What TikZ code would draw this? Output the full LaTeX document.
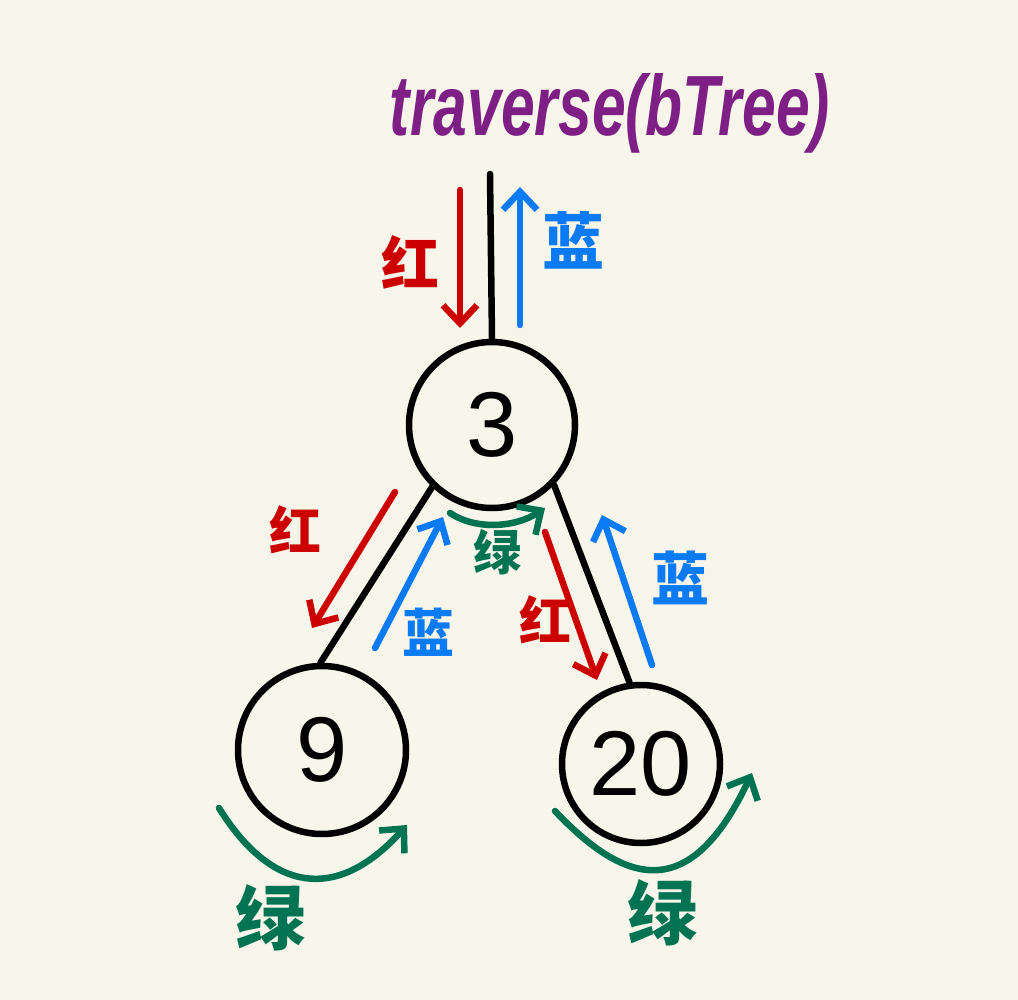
\documentclass[tikz,border=0pt]{standalone}
\usepackage{fontspec}
\setmainfont{Liberation Sans}
\newfontfamily\cjk{Noto Sans CJK SC}
\usetikzlibrary{arrows.meta}
\definecolor{bgc}{HTML}{F8F6EA}
\definecolor{purp}{HTML}{7E1F86}
\definecolor{redc}{HTML}{CC0000}
\definecolor{bluec}{HTML}{0A7AF5}
\definecolor{greenc}{HTML}{007352}
\tikzset{
  treenode/.style={circle,draw=black,line width=6.5pt,inner sep=0pt,font=\fontsize{92}{92}\selectfont},
  edgeline/.style={draw=black,line width=6.5pt,line cap=round},
  flow/.style={line width=6.5pt,line cap=round,line join=round,-{Straight Barb[length=18pt,width=34pt,line width=6.5pt]}},
  redarrow/.style={flow,draw=redc},
  bluearrow/.style={flow,draw=bluec},
  greenarrow/.style={flow,draw=greenc},
  lab/.style={font=\cjk\bfseries\fontsize{52}{52}\selectfont,inner sep=0pt},
}
\begin{document}
\begin{tikzpicture}[x=1pt,y=-1pt]
\fill[bgc] (0,0) rectangle (1018,1000);
\useasboundingbox (0,0) rectangle (1018,1000);
% title
\node[text=purp,inner sep=0pt] (title) at (610,113) {\resizebox{440pt}{62pt}{\itshape\bfseries traverse(bTree)}};
% nodes
\node[treenode,minimum size=166pt] (n3) at (492,425) {3};
\node[treenode,minimum size=168pt] (n9) at (322,750) {9};
\node[treenode,minimum size=158pt] (n20) at (641,764) {20};
\coordinate (top) at (490,174);
% edges
\draw[edgeline] (top) -- (n3.north);
\draw[edgeline] (n3.226) -- (n9.91);
\draw[edgeline] (n3.316) -- (n20.98);
% top arrows
\coordinate (r1s) at (460,190); \coordinate (r1e) at (460,328);
\draw[redarrow] (r1s) -- (r1e);
\coordinate (b1s) at (520,325); \coordinate (b1e) at (520,187);
\draw[bluearrow] (b1s) -- (b1e);
% left branch
\coordinate (r2s) at (395,492); \coordinate (r2e) at (312,628);
\draw[redarrow] (r2s) -- (r2e);
\coordinate (b2s) at (375,648); \coordinate (b2e) at (443,517);
\draw[bluearrow] (b2s) -- (b2e);
% right branch
\coordinate (r3s) at (545,532); \coordinate (r3e) at (597,680);
\draw[redarrow] (r3s) -- (r3e);
\coordinate (b3s) at (652,665); \coordinate (b3e) at (602,515);
\draw[bluearrow] (b3s) -- (b3e);
% green arcs
\coordinate (g1s) at (450,513); \coordinate (g1e) at (545,508);
\draw[greenarrow] (g1s) .. controls (475,530) and (515,528) .. (g1e);
\coordinate (g2s) at (219,808); \coordinate (g2e) at (407,825);
\draw[greenarrow] (g2s) .. controls (270,890) and (335,905) .. (g2e);
\coordinate (g3s) at (555,811); \coordinate (g3e) at (752,773);
\draw[greenarrow] (g3s) .. controls (625,885) and (690,905) .. (g3e);
% labels
\node[lab,text=redc,font=\cjk\bfseries\fontsize{58}{58}\selectfont] (l1) at (410,262) {红};
\node[lab,text=bluec,font=\cjk\bfseries\fontsize{62}{62}\selectfont] (l2) at (573,240) {蓝};
\node[lab,text=redc] (l3) at (295,530) {红};
\node[lab,text=bluec] (l4) at (428,632) {蓝};
\node[lab,text=greenc,font=\cjk\bfseries\fontsize{48}{48}\selectfont] (l5) at (497,552) {绿};
\node[lab,text=redc] (l6) at (545,620) {红};
\node[lab,text=bluec,font=\cjk\bfseries\fontsize{58}{58}\selectfont] (l7) at (680,578) {蓝};
\node[lab,text=greenc,font=\cjk\bfseries\fontsize{70}{70}\selectfont] (l8) at (270,918) {绿};
\node[lab,text=greenc,font=\cjk\bfseries\fontsize{70}{70}\selectfont] (l9) at (662,913) {绿};
\end{tikzpicture}
\end{document}
